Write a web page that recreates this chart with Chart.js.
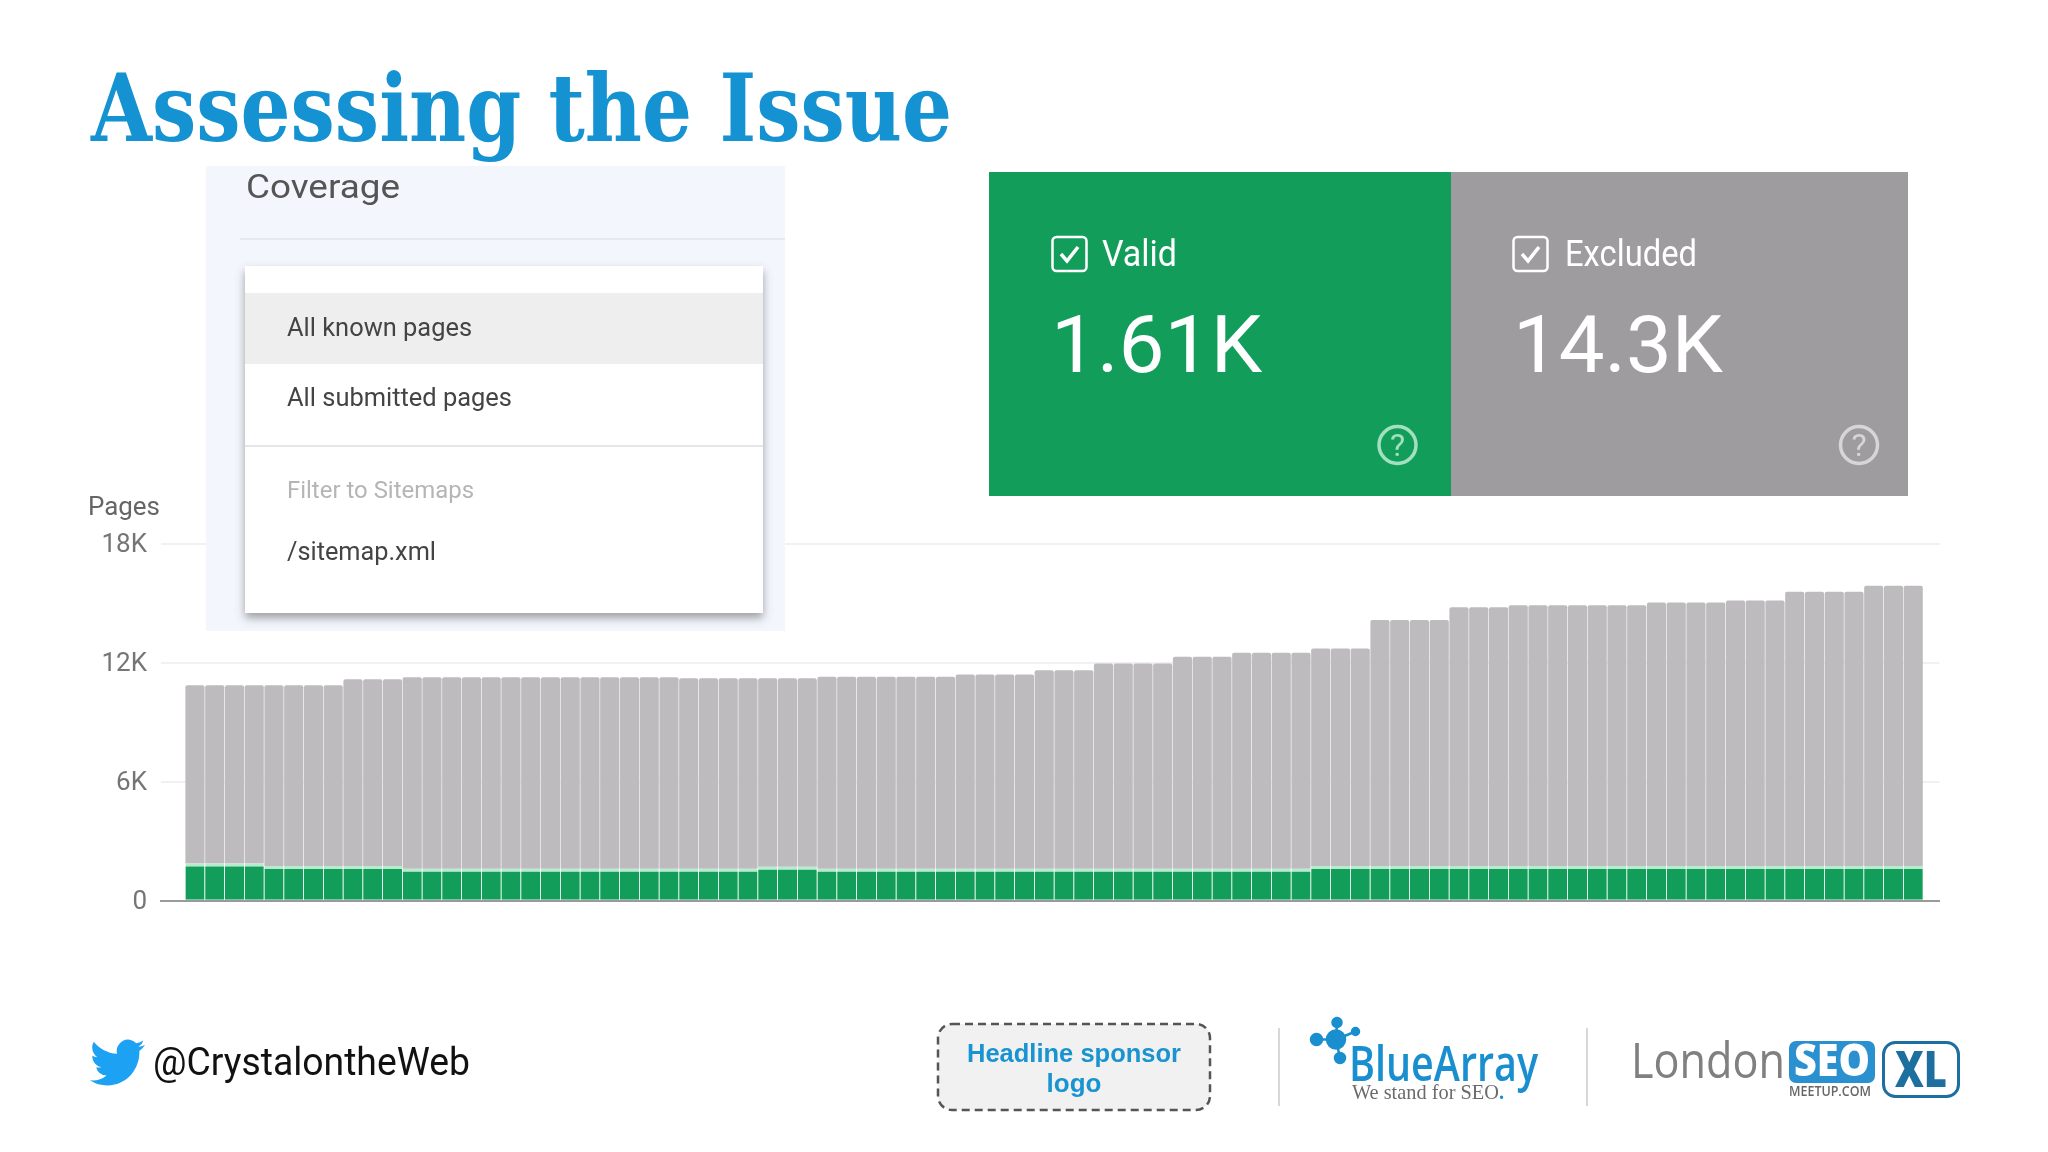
<!DOCTYPE html>
<html>
<head>
<meta charset="utf-8">
<title>Assessing the Issue</title>
<script src="https://cdn.jsdelivr.net/npm/chart.js@4"></script>
<style>
    html, body { margin: 0; padding: 0; background: #fff; }
    #slide { position: relative; width: 2048px; height: 1152px; overflow: hidden; }
    #chart { position: absolute; left: 0; top: 0; }
    #overlay { position: absolute; left: 0; top: 0; }
    text { font-family: Roboto, sans-serif; }
</style>
</head>
<body>
<div id="slide">
    <canvas id="chart" width="2048" height="1152"></canvas>
    <svg id="overlay" width="2048" height="1152" viewBox="0 0 2048 1152">
        <defs>
            <filter id="menu-shadow" x="-10%" y="-10%" width="120%" height="120%">
                <feDropShadow dx="0" dy="5" stdDeviation="5" flood-color="#555" flood-opacity="0.55"/>
            </filter>
        </defs>

        <text x="91" y="141" textLength="861" lengthAdjust="spacingAndGlyphs" font-size="94" font-weight="700" fill="#1492d2" style="font-family:'DejaVu Serif',serif">Assessing the Issue</text>

        <text x="88" y="515" textLength="72" lengthAdjust="spacingAndGlyphs" font-size="26" fill="#666">Pages</text>

        <!-- Coverage dropdown screenshot -->
        <rect x="206" y="166" width="579" height="465" fill="#f4f6fe"/>
        <text x="246" y="198" textLength="154" lengthAdjust="spacingAndGlyphs" font-size="34" fill="#555">Coverage</text>
        <rect x="240" y="238" width="545" height="2" fill="#e8e9f0"/>
        <rect x="245" y="266" width="518" height="347" fill="#fff" filter="url(#menu-shadow)"/>
        <rect x="245" y="293" width="518" height="71" fill="#eeeeee"/>
        <rect x="245" y="445" width="518" height="2" fill="#e6e6ea"/>
        <text x="287" y="336" textLength="185" lengthAdjust="spacingAndGlyphs" font-size="26" fill="#444">All known pages</text>
        <text x="287" y="406" textLength="225" lengthAdjust="spacingAndGlyphs" font-size="26" fill="#444">All submitted pages</text>
        <text x="287" y="498" textLength="187" lengthAdjust="spacingAndGlyphs" font-size="24" fill="#b5b5b5">Filter to Sitemaps</text>
        <text x="287" y="560" textLength="149" lengthAdjust="spacingAndGlyphs" font-size="26" fill="#444">/sitemap.xml</text>

        <!-- Valid / Excluded cards -->
        <rect x="989" y="172" width="462" height="324" fill="#129e5a"/>
        <rect x="1451" y="172" width="457" height="324" fill="#9e9c9f"/>

        <rect x="1052.5" y="237" width="34" height="34" rx="4" fill="none" stroke="#fff" stroke-width="2.5"/>
        <path d="M1061 254 l6 7 l11 -14" fill="none" stroke="#fff" stroke-width="3.5"/>
        <text x="1102" y="266" textLength="75" lengthAdjust="spacingAndGlyphs" font-size="36" fill="#fff">Valid</text>
        <text x="1051" y="372" textLength="211" lengthAdjust="spacingAndGlyphs" font-size="80" fill="#fff">1.61K</text>
        <circle cx="1397.5" cy="445" r="18.5" fill="none" stroke="#a3e0bf" stroke-width="3.5"/>
        <text x="1397.5" y="456" text-anchor="middle" font-size="32" fill="#a3e0bf">?</text>

        <rect x="1513.5" y="237" width="34" height="34" rx="4" fill="none" stroke="#fff" stroke-width="2.5"/>
        <path d="M1522 254 l6 7 l11 -14" fill="none" stroke="#fff" stroke-width="3.5"/>
        <text x="1565" y="266" textLength="132" lengthAdjust="spacingAndGlyphs" font-size="36" fill="#fff">Excluded</text>
        <text x="1513" y="372" textLength="210" lengthAdjust="spacingAndGlyphs" font-size="80" fill="#fff">14.3K</text>
        <circle cx="1859" cy="445" r="18.5" fill="none" stroke="#d6d6d6" stroke-width="3.5"/>
        <text x="1859" y="456" text-anchor="middle" font-size="32" fill="#d6d6d6">?</text>

        <!-- Footer -->
        <svg x="90" y="1039" width="55" height="47" viewBox="0 2 24 20" preserveAspectRatio="none">
            <path fill="#1da1f2" d="M23.953 4.57a10 10 0 01-2.825.775 4.958 4.958 0 002.163-2.723c-.951.555-2.005.959-3.127 1.184a4.92 4.92 0 00-8.384 4.482C7.69 8.095 4.067 6.13 1.64 3.162a4.822 4.822 0 00-.666 2.475c0 1.71.87 3.213 2.188 4.096a4.904 4.904 0 01-2.228-.616v.06a4.923 4.923 0 003.946 4.827 4.996 4.996 0 01-2.212.085 4.936 4.936 0 004.604 3.417 9.867 9.867 0 01-6.102 2.105c-.39 0-.779-.023-1.17-.067a13.995 13.995 0 007.557 2.209c9.053 0 13.998-7.496 13.998-13.985 0-.21 0-.42-.015-.63A9.935 9.935 0 0024 4.59z"/>
        </svg>
        <text x="153" y="1075" textLength="317" lengthAdjust="spacingAndGlyphs" font-size="39" fill="#111">@CrystalontheWeb</text>

        <rect x="938" y="1024" width="272" height="86" rx="14" fill="#f1f1f2" stroke="#555" stroke-width="2.5" stroke-dasharray="8 5"/>
        <text x="1074" y="1062" text-anchor="middle" textLength="214" lengthAdjust="spacingAndGlyphs" font-size="26" font-weight="700" fill="#1a93d1" style="font-family:'Liberation Sans',sans-serif">Headline sponsor</text>
        <text x="1074" y="1092" text-anchor="middle" font-size="26" font-weight="700" fill="#1a93d1" style="font-family:'Liberation Sans',sans-serif">logo</text>

        <rect x="1278" y="1028" width="2" height="78" fill="#d8d8d8"/>
        <rect x="1586" y="1028" width="2" height="78" fill="#d8d8d8"/>

        <!-- BlueArray logo -->
        <g stroke="#1a8fd0" stroke-width="2.5" fill="#1a8fd0">
            <line x1="1336" y1="1039.5" x2="1337" y2="1022.5"/>
            <line x1="1336" y1="1039.5" x2="1316.5" y2="1039.5"/>
            <line x1="1336" y1="1039.5" x2="1355.5" y2="1031.5"/>
            <line x1="1336" y1="1039.5" x2="1340" y2="1058"/>
            <circle cx="1336" cy="1039.5" r="9"/>
            <circle cx="1337" cy="1022.5" r="4.5"/>
            <circle cx="1316.5" cy="1039.5" r="5.5"/>
            <circle cx="1355.5" cy="1031.5" r="3.5"/>
            <circle cx="1340" cy="1058" r="5"/>
        </g>
        <text x="1349" y="1081" textLength="189" lengthAdjust="spacingAndGlyphs" font-size="48" font-weight="600" fill="#1a8fd0" style="font-family:'Open Sans',sans-serif">BlueArray</text>
        <text x="1352" y="1099" textLength="152" lengthAdjust="spacingAndGlyphs" font-size="22" fill="#6b6b6b" style="font-family:'Liberation Serif',serif">We stand for SEO<tspan fill="#1a8fd0" font-weight="700">.</tspan></text>

        <!-- London SEO logo -->
        <text x="1631" y="1078" textLength="154" lengthAdjust="spacingAndGlyphs" font-size="50" fill="#808080" style="font-family:'Open Sans',sans-serif">London</text>
        <rect x="1789" y="1041" width="86" height="42" rx="7" fill="#2a90d0"/>
        <text x="1832" y="1076" text-anchor="middle" textLength="76" lengthAdjust="spacingAndGlyphs" font-size="44" font-weight="800" fill="#fff" style="font-family:'Open Sans',sans-serif">SEO</text>
        <text x="1789" y="1096" textLength="82" lengthAdjust="spacingAndGlyphs" font-size="15" font-weight="600" fill="#666" style="font-family:'Open Sans',sans-serif">MEETUP.COM</text>
        <rect x="1883.5" y="1042.5" width="75" height="54" rx="12" fill="#fff" stroke="#1d6f9f" stroke-width="3"/>
        <text x="1921" y="1087" text-anchor="middle" textLength="52" lengthAdjust="spacingAndGlyphs" font-size="50" font-weight="800" fill="#1d6f9f" style="font-family:'Open Sans',sans-serif">XL</text>
    </svg>
</div>

<script>
// Values, one entry per bar.
const validPages = [
    1880, 1880, 1880, 1880, 1750, 1750, 1750, 1750, 1750, 1750, 1750,
    1610, 1610, 1610, 1610, 1610, 1610, 1610, 1610, 1610, 1610, 1610,
    1610, 1610, 1610, 1610, 1610, 1610, 1610, 1710, 1710, 1710, 1610,
    1610, 1610, 1610, 1610, 1610, 1610, 1610, 1610, 1610, 1610, 1610,
    1610, 1610, 1610, 1610, 1610, 1610, 1610, 1610, 1610, 1610, 1610,
    1610, 1610, 1750, 1750, 1750, 1750, 1750, 1750, 1750, 1750, 1750,
    1750, 1750, 1750, 1750, 1750, 1750, 1750, 1750, 1750, 1750, 1750,
    1750, 1750, 1750, 1750, 1750, 1750, 1750, 1750, 1750, 1750, 1750
];
const excludedPages = [
    8980, 8980, 8980, 8980, 9110, 9110, 9110, 9110, 9410, 9410, 9410,
    9660, 9660, 9660, 9660, 9660, 9660, 9660, 9660, 9660, 9660, 9660,
    9660, 9660, 9660, 9600, 9600, 9600, 9600, 9500, 9500, 9500, 9680,
    9680, 9680, 9680, 9680, 9680, 9680, 9790, 9790, 9790, 9790, 10010,
    10010, 10010, 10350, 10350, 10350, 10350, 10690, 10690, 10690, 10890, 10890, 10890,
    10890, 10970, 10970, 10970, 12400, 12400, 12400, 12400, 13040, 13040, 13040,
    13150, 13150, 13150, 13150, 13150, 13150, 13150, 13280, 13280, 13280, 13280,
    13390, 13390, 13390, 13830, 13830, 13830, 13830, 14130, 14130, 14130
];
const yTicks = [0, 6000, 12000, 18000];
const yTickLabels = ["0", "6K", "12K", "18K"];

const toPoints = (values) => values.map((y, x) => ({ x, y }));

new Chart(document.getElementById("chart"), {
    type: "bar",
    data: {
        datasets: [
            {
                label: "Valid",
                data: toPoints(validPages),
                backgroundColor: "#129e5a",
                borderColor: "#b6ebcd",
                borderWidth: { top: 3, right: 0, bottom: 0, left: 0 },
                borderSkipped: false,
            },
            {
                label: "Excluded",
                data: toPoints(excludedPages),
                backgroundColor: "#bdbbbe",
                borderWidth: 0,
                borderRadius: { topLeft: 2, topRight: 2, bottomLeft: 0, bottomRight: 0 },
                borderSkipped: false,
            }
        ]
    },
    options: {
        responsive: false,
        devicePixelRatio: 1,
        animation: false,
        layout: { padding: { left: 0, right: 108.5, top: 543.7, bottom: 251.3 } },
        plugins: { legend: { display: false }, tooltip: { enabled: false } },
        datasets: { bar: { barPercentage: 0.97, categoryPercentage: 1 } },
        scales: {
            x: {
                type: "linear",
                offset: false,
                stacked: true,
                min: -1.72,
                max: 88.33,
                ticks: { display: false },
                grid: { display: false },
                border: { color: "#9a9a9a", width: 2 },
                afterFit: (scale) => { scale.height = 0; },
            },
            y: {
                stacked: true,
                min: 0,
                max: 18000,
                afterBuildTicks: (scale) => { scale.ticks = yTicks.map((value) => ({ value })); },
                ticks: {
                    padding: 14,
                    labelOffset: 2,
                    color: "#757575",
                    font: { family: "Roboto", size: 26 },
                    callback: (value) => yTickLabels[yTicks.indexOf(value)],
                },
                grid: { color: "#f1f1f3", lineWidth: 2, drawTicks: false },
                border: { display: false },
                afterFit: (scale) => { scale.width = 161; },
            }
        }
    }
});
</script>
</body>
</html>
